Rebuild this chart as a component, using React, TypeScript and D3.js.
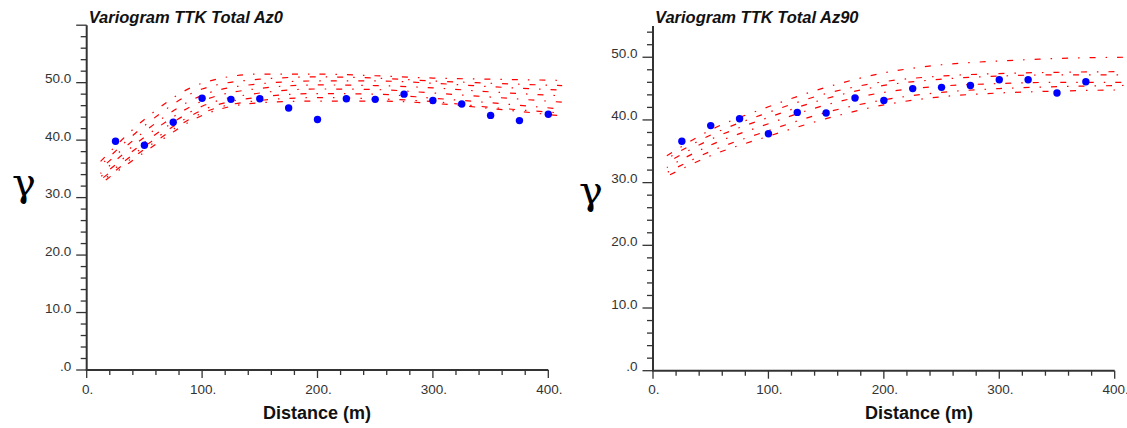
import React from "react";
import * as d3 from "d3";

// ---------- data ----------
const lagsAz0 = [25, 50, 75, 100, 125, 150, 175, 200, 225, 250, 275, 300, 325, 350, 375, 400];
const gammaAz0 = [39.8, 39.1, 43.1, 47.3, 47.1, 47.2, 45.6, 43.6, 47.2, 47.1, 48.0, 46.9, 46.3, 44.3, 43.4, 44.5];

const lagsAz90 = [25, 50, 75, 100, 125, 150, 175, 200, 225, 250, 275, 300, 325, 350, 375];
const gammaAz90 = [36.6, 39.1, 40.2, 37.8, 41.2, 41.1, 43.5, 43.1, 45.0, 45.2, 45.5, 46.4, 46.4, 44.3, 46.1];

// model curves sampled at these distances
const modelDistAz0 = [12, 50, 100, 150, 200, 250, 300, 350, 412];
const modelsAz0 = [
  [36.3, 43.6, 49.9, 51.5, 51.5, 51.2, 50.8, 50.6, 50.4],
  [35.6, 42.5, 48.9, 50.6, 51.0, 50.8, 50.3, 49.9, 49.5],
  [35.0, 41.5, 47.8, 49.8, 50.3, 50.3, 49.9, 49.3, 48.7],
  [34.2, 40.5, 46.8, 49.0, 49.6, 49.5, 49.1, 48.4, 47.7],
  [33.6, 39.6, 45.9, 48.2, 48.9, 48.8, 48.2, 47.5, 46.6],
  [33.1, 38.9, 45.2, 47.5, 48.1, 48.0, 47.3, 46.5, 45.4],
  [32.7, 38.4, 44.7, 46.9, 47.4, 47.2, 46.7, 45.7, 44.7],
  [32.4, 37.9, 44.3, 46.5, 46.8, 46.8, 46.4, 45.5, 44.2],
];

const modelDistAz90 = [12, 50, 100, 150, 200, 250, 300, 350, 408];
const modelsAz90 = [
  [34.3, 38.4, 42.1, 45.2, 47.5, 48.8, 49.4, 49.8, 50.0],
  [33.8, 37.6, 41.2, 44.2, 46.1, 47.0, 47.4, 47.6, 47.7],
  [33.2, 36.9, 40.4, 43.4, 45.5, 46.5, 47.0, 47.2, 47.2],
  [32.4, 36.0, 39.4, 42.4, 44.4, 45.4, 45.8, 46.0, 46.0],
  [31.6, 35.0, 38.3, 41.2, 43.2, 44.4, 45.0, 45.3, 45.5],
  [31.0, 34.3, 37.4, 40.2, 42.4, 43.7, 44.3, 44.6, 44.8],
];

const titles = ["Variogram TTK Total Az0", "Variogram TTK Total Az90"];
const xMajorTicks = [0, 100, 200, 300, 400];
const yMajorTicks = [0, 10, 20, 30, 40, 50];
const xLabel = "Distance (m)";
const yLabel = "γ";

// ---------- layout ----------
const panels = [
  {
    title: titles[0],
    lags: lagsAz0,
    gamma: gammaAz0,
    modelDist: modelDistAz0,
    models: modelsAz0,
    xRange: [86.7, 548.3],
    yDomain: [0, 60],
    yRange: [370, 25.2],
    xLabelX: 317,
    gammaX: 12,
    gammaY: 196,
  },
  {
    title: titles[1],
    lags: lagsAz90,
    gamma: gammaAz90,
    modelDist: modelDistAz90,
    models: modelsAz90,
    xRange: [653, 1114.7],
    yDomain: [0, 55],
    yRange: [370.7, 25.9],
    xLabelX: 919,
    gammaX: 579,
    gammaY: 204,
  },
];

const axisColor = "#333";
const sans = "'Liberation Sans', Arial, Helvetica, sans-serif";

function Panel({ p }: { p: any }) {
  const x = d3.scaleLinear().domain([0, 400]).range(p.xRange);
  const y = d3.scaleLinear().domain(p.yDomain).range(p.yRange);
  const x0 = x(0);
  const y0 = y(0);
  const xMinor = d3.range(0, 401, 20);
  const yMinor = d3.range(0, p.yDomain[1] + 0.001, 2);
  const line = d3
    .line<number>()
    .x((_, i) => x(p.modelDist[i]))
    .y((v) => y(v))
    .curve(d3.curveMonotoneX);
  const phases = [0, 11, 19, 5, 15, 24, 8, 21];
  return (
    <g>
      <text x={x0 + 2} y={22.5} fontFamily={sans} fontWeight="bold" fontStyle="italic" fontSize={16.5} fill="#111">
        {p.title}
      </text>
      {p.models.map((m: number[], i: number) => (
        <path
          key={i}
          d={line(m) || ""}
          fill="none"
          stroke="#ff0000"
          strokeWidth={1.2}
          strokeDasharray="6,10,1.5,10"
          strokeDashoffset={phases[i % phases.length]}
        />
      ))}
      {p.lags.map((d: number, i: number) => (
        <circle key={i} cx={x(d)} cy={y(p.gamma[i])} r={3.7} fill="#0000ff" />
      ))}
      <line x1={x0} x2={x0} y1={y0} y2={y(p.yDomain[1])} stroke={axisColor} strokeWidth={2} />
      {yMinor.map((v: number) => (
        <line
          key={"ym" + v}
          x1={x0}
          x2={x0 - (v % 10 === 0 ? 10.5 : 6)}
          y1={y(v)}
          y2={y(v)}
          stroke={axisColor}
          strokeWidth={1.3}
        />
      ))}
      {yMajorTicks.map((v) => (
        <text
          key={"yl" + v}
          x={x0 - 15.5}
          y={y(v) + 0.5}
          textAnchor="end"
          fontFamily={sans}
          fontSize={13.5}
          fill={axisColor}
        >
          {v === 0 ? ".0" : v.toFixed(1)}
        </text>
      ))}
      <line x1={x0 - 1} x2={x(400)} y1={y0} y2={y0} stroke={axisColor} strokeWidth={2} />
      {xMinor.map((v: number) => (
        <line
          key={"xm" + v}
          x1={x(v)}
          x2={x(v)}
          y1={y0}
          y2={y0 + (v % 100 === 0 ? 8 : 5)}
          stroke={axisColor}
          strokeWidth={1.3}
        />
      ))}
      {xMajorTicks.map((v) => (
        <text
          key={"xl" + v}
          x={x(v) + 1}
          y={393.5}
          textAnchor="middle"
          fontFamily={sans}
          fontSize={13.5}
          fill={axisColor}
        >
          {v + "."}
        </text>
      ))}
      <text x={p.xLabelX} y={419} textAnchor="middle" fontFamily={sans} fontWeight="bold" fontSize={18} fill="#111">
        {xLabel}
      </text>
      <text x={p.gammaX} y={p.gammaY} fontFamily="'DejaVu Serif', serif" fontSize={40} fill="#000">
        {yLabel}
      </text>
    </g>
  );
}

export default function App() {
  return (
    <svg width={1127} height={428} style={{ position: "absolute", left: 0, top: 0, background: "#fff" }}>
      <rect width={1127} height={428} fill="#fff" />
      {panels.map((p, i) => (
        <Panel key={i} p={p} />
      ))}
    </svg>
  );
}
